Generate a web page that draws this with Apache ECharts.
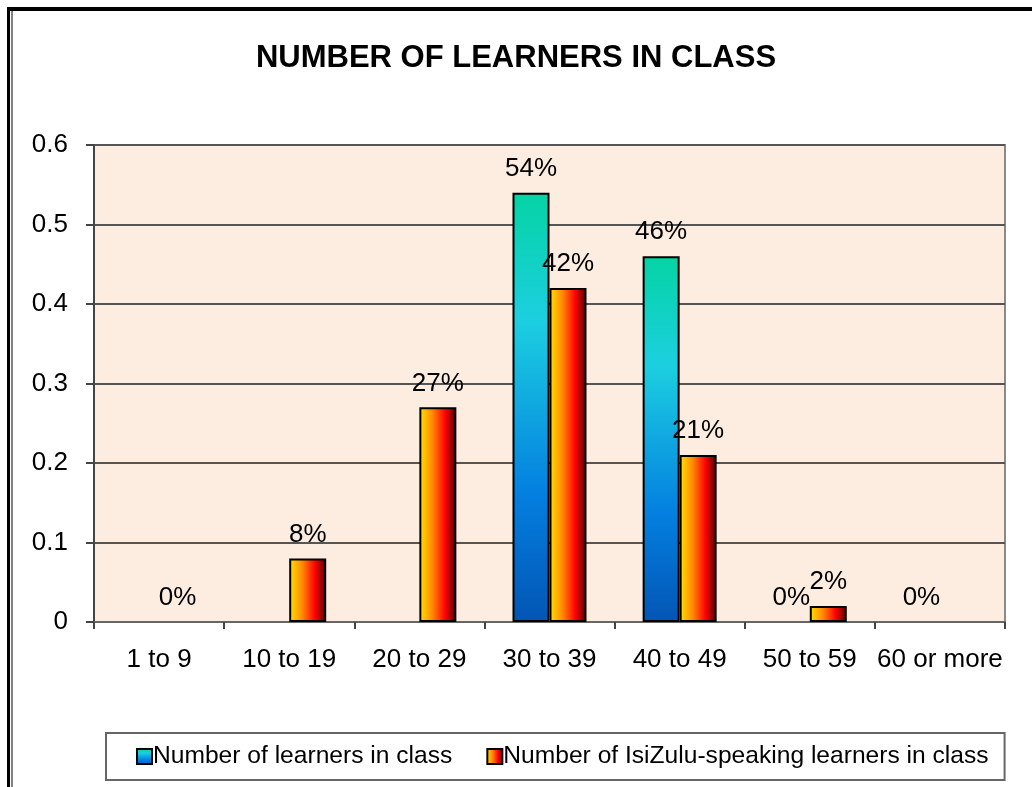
<!DOCTYPE html>
<html>
<head>
<meta charset="utf-8">
<script src="https://cdn.jsdelivr.net/npm/echarts@6/dist/echarts.min.js"></script>
<style>
  html, body { margin: 0; padding: 0; background: #fff; }
  #frame {
    position: absolute; left: 7px; top: 7px; width: 1025px; height: 780px;
    border-top: 4px solid #000; border-left: 3px solid #000; box-sizing: border-box;
  }
  #frame .inner { position: absolute; left: 1px; top: 0; bottom: 0; border-left: 2px solid #808080; }
  #chart { position: absolute; left: 0; top: 0; width: 1032px; height: 787px; }
</style>
</head>
<body>
<div id="frame"><div class="inner"></div></div>
<div id="chart"></div>
<script>
// 数据
const categories = ['1 to 9', '10 to 19', '20 to 29', '30 to 39', '40 to 49', '50 to 59', '60 or more'];
const learners = [null, null, null, 0.54, 0.46, 0, 0];
const isizulu = [0, 0.08, 0.27, 0.42, 0.21, 0.02, null];
const yTicks = [0, 0.1, 0.2, 0.3, 0.4, 0.5, 0.6];

const FONT = '"Liberation Sans", Arial, sans-serif';

const blueGrad = new echarts.graphic.LinearGradient(0, 0, 0, 1, [
  { offset: 0, color: '#04d4a4' },
  { offset: 0.3, color: '#1ccfe0' },
  { offset: 0.7, color: '#0380e0' },
  { offset: 1, color: '#0355b4' }
]);
const redGrad = new echarts.graphic.LinearGradient(0, 0, 1, 0, [
  { offset: 0, color: '#ffe400' },
  { offset: 0.35, color: '#ff8a00' },
  { offset: 0.7, color: '#ff0000' },
  { offset: 1, color: '#4a0000' }
]);

const pct = p => Math.round(p.value * 100) + '%';
// 0 的柱子不画边框，只留标签
const toItems = arr => arr.map(v => v === 0 ? { value: 0, itemStyle: { borderWidth: 0 } } : v);

const labelStyle = { show: true, position: 'top', distance: 11, formatter: pct, fontFamily: FONT, fontSize: 26, color: '#000' };

const chart = echarts.init(document.getElementById('chart'));
chart.setOption({
  animation: false,
  title: {
    text: 'NUMBER OF LEARNERS IN CLASS',
    left: 'center',
    top: 38,
    textStyle: { fontFamily: FONT, fontSize: 31, fontWeight: 'bold', color: '#000' }
  },
  grid: {
    left: 94, right: 27, top: 145, bottom: 165,
    show: true, backgroundColor: '#fdede1', borderColor: '#8a8a8a', borderWidth: 2
  },
  legend: {
    bottom: 7,
    left: 106,
    padding: [11, 16, 11, 30],
    itemGap: 34,
    itemWidth: 15,
    itemHeight: 15,
    icon: 'rect',
    borderColor: '#666',
    borderWidth: 2,
    textStyle: { fontFamily: FONT, fontSize: 24.6, color: '#000', padding: [0, 0, 0, -4] },
    itemStyle: { borderColor: '#000', borderWidth: 2 }
  },
  xAxis: {
    type: 'category',
    data: categories,
    axisLine: { lineStyle: { color: '#666', width: 2 } },
    axisTick: { show: true, length: 7, lineStyle: { color: '#444', width: 2 } },
    axisLabel: { fontFamily: FONT, fontSize: 26, color: '#000', margin: 25, interval: 0 }
  },
  yAxis: {
    type: 'value',
    min: yTicks[0],
    max: yTicks[yTicks.length - 1],
    interval: 0.1,
    axisLine: { show: true, lineStyle: { color: '#444', width: 2 } },
    axisTick: { show: true, length: 8, lineStyle: { color: '#444', width: 2 } },
    axisLabel: { fontFamily: FONT, fontSize: 26, color: '#000', margin: 26 },
    splitLine: { lineStyle: { color: '#555', width: 2 } }
  },
  series: [
    {
      name: 'Number of learners in class',
      type: 'bar',
      data: toItems(learners),
      barWidth: 37,
      barGap: '0%',
      itemStyle: { color: blueGrad, borderColor: '#000', borderWidth: 2 },
      label: labelStyle
    },
    {
      name: 'Number of IsiZulu-speaking learners in class',
      type: 'bar',
      data: toItems(isizulu),
      barWidth: 37,
      itemStyle: { color: redGrad, borderColor: '#000', borderWidth: 2 },
      label: labelStyle
    }
  ]
});
</script>
</body>
</html>
